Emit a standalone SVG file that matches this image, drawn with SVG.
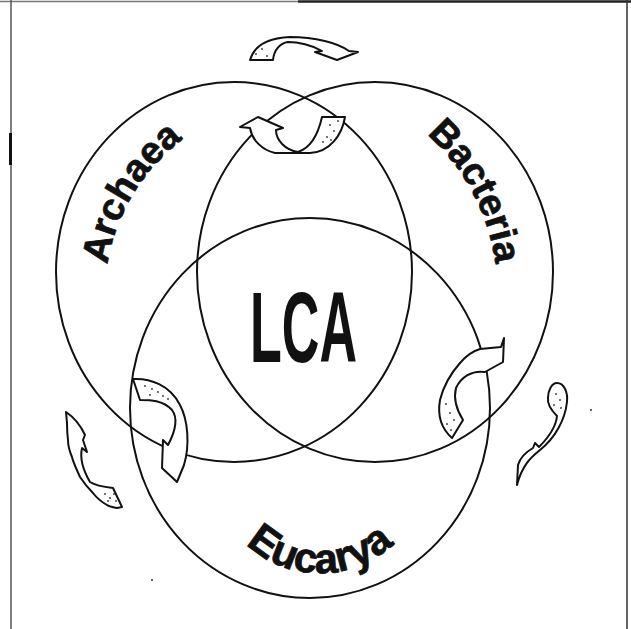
<svg xmlns="http://www.w3.org/2000/svg" width="631" height="629" viewBox="0 0 631 629">
<style>
.ring{fill:none;stroke:#111;stroke-width:2}
.arrow{fill:#fff;stroke:#111;stroke-width:2;stroke-linejoin:round}
.dot{fill:#333}
.lbl{font-family:"Liberation Sans",Arial,Helvetica,sans-serif;font-weight:bold;font-size:38px;fill:#111;stroke:#111;stroke-width:0.8}
.big{font-family:"Liberation Sans",Arial,Helvetica,sans-serif;font-weight:bold;font-size:100px;fill:#111}
</style>
<defs>
<path id="pArch" d="M131.13,392.5 A195,195 0 0 1 300,100"/>
<path id="pBact" d="M254.05,86.14 A207,207 0 0 1 484.52,360.8"/>
<path id="pEuc" d="M213.6,483.8 A108,108 0 0 0 426.4,483.8"/>
</defs>
<rect width="631" height="629" fill="#fff"/>
<g id="frame">
<line x1="0" y1="1.5" x2="298" y2="1.5" stroke="#777" stroke-width="1.5"/>
<line x1="298" y1="1.5" x2="631" y2="1.5" stroke="#222" stroke-width="2.5"/>
<line x1="11" y1="0" x2="11" y2="629" stroke="#555" stroke-width="1.5"/>
<line x1="10.5" y1="133" x2="10.5" y2="165" stroke="#111" stroke-width="3"/>
<line x1="627" y1="0" x2="627" y2="629" stroke="#333" stroke-width="1.5"/>
</g>
<g id="node-archaea">
<ellipse class="ring" cx="234" cy="272" rx="178" ry="190"/>
<text class="lbl"><textPath href="#pArch" startOffset="207.6" text-anchor="middle">Archaea</textPath></text>
</g>
<g id="node-bacteria">
<ellipse class="ring" cx="375" cy="272" rx="178" ry="190"/>
<text class="lbl"><textPath href="#pBact" startOffset="260.1" text-anchor="middle">Bacteria</textPath></text>
</g>
<g id="node-eucarya">
<ellipse class="ring" cx="310" cy="408" rx="180" ry="190"/>
<text class="lbl" style="font-size:42px"><textPath href="#pEuc" startOffset="50%" text-anchor="middle">Eucarya</textPath></text>
</g>
<g id="node-lca">
<text class="big" x="250" y="362" textLength="107" lengthAdjust="spacingAndGlyphs">LCA</text>
</g>
<g id="connectors">
<path class="arrow" d="M250,60 C254,46 268,38 290,37 C315,37 338,43 349,51 L358,52 L337,60 L315,52 L322,51 C312,45 298,42 288,42 C280,43 274,50 273,60 Z"/>
<path class="arrow" d="M240,127 L258,117 L283,128 L276,130 C276,140 285,150 298,152 C310,148 318,135 322,117 L345,117 C342,135 330,152 310,153 L275,153 C262,150 252,140 250,128 Z"/>
<path class="arrow" d="M133,379 C150,378 170,385 180,405 C188,420 190,445 184,465 L177,482 L162,468 L163,440 L168,445 C176,430 178,418 172,410 C163,400 150,400 140,400 Z"/>
<path class="arrow" d="M66,412 C72,416 80,424 85,435 L83,440 L87,452 L82,448 C80,457 83,470 90,482 C96,486 104,487 113,488 L122,507 L117,508 C112,507 108,506 107,505 C100,501 96,497 93,493 C86,486 82,480 80,477 C76,468 73,462 72,457 C69,450 68,445 68,440 C67,432 67,427 67,423 Z"/>
<path class="arrow" d="M452,438 C443,430 437,417 440,400 C444,384 452,372 460,363 C466,356 473,351 480,349 L501,347 L504,338 L503,362 L485,372 C472,370 461,377 456,388 C453,400 458,412 463,420 Z"/>
<path class="arrow" d="M557,383 C564,383 568,392 567,402 C565,420 555,438 540,450 C530,458 522,466 517,485 L518,465 C520,458 526,452 533,448 L535,443 L539,447 C549,437 556,426 557,416 C552,411 547,405 548,398 C548,390 552,383 557,383 Z"/>
</g>
<g id="stipple">
<circle class="dot" cx="256" cy="54" r="0.9"/><circle class="dot" cx="262" cy="49" r="0.9"/><circle class="dot" cx="267" cy="56" r="0.9"/>
<circle class="dot" cx="330" cy="125" r="0.9"/><circle class="dot" cx="334" cy="131" r="0.9"/><circle class="dot" cx="327" cy="137" r="0.9"/><circle class="dot" cx="338" cy="121" r="0.9"/><circle class="dot" cx="323" cy="142" r="0.9"/><circle class="dot" cx="331" cy="140" r="0.9"/>
<circle class="dot" cx="145" cy="386" r="0.9"/><circle class="dot" cx="152" cy="389" r="0.9"/><circle class="dot" cx="158" cy="392" r="0.9"/><circle class="dot" cx="163" cy="396" r="0.9"/><circle class="dot" cx="168" cy="399" r="0.9"/><circle class="dot" cx="150" cy="395" r="0.9"/>
<circle class="dot" cx="105" cy="494" r="0.9"/><circle class="dot" cx="110" cy="498" r="0.9"/><circle class="dot" cx="114" cy="494" r="0.9"/><circle class="dot" cx="108" cy="501" r="0.9"/><circle class="dot" cx="116" cy="501" r="0.9"/>
<circle class="dot" cx="446" cy="404" r="0.9"/><circle class="dot" cx="450" cy="413" r="0.9"/><circle class="dot" cx="454" cy="420" r="0.9"/><circle class="dot" cx="447" cy="424" r="0.9"/><circle class="dot" cx="451" cy="430" r="0.9"/>
<circle class="dot" cx="556" cy="394" r="0.9"/><circle class="dot" cx="560" cy="400" r="0.9"/><circle class="dot" cx="554" cy="405" r="0.9"/><circle class="dot" cx="561" cy="408" r="0.9"/>
<circle class="dot" cx="591" cy="410" r="1"/><circle class="dot" cx="152" cy="580" r="1"/>
</g>
</svg>
